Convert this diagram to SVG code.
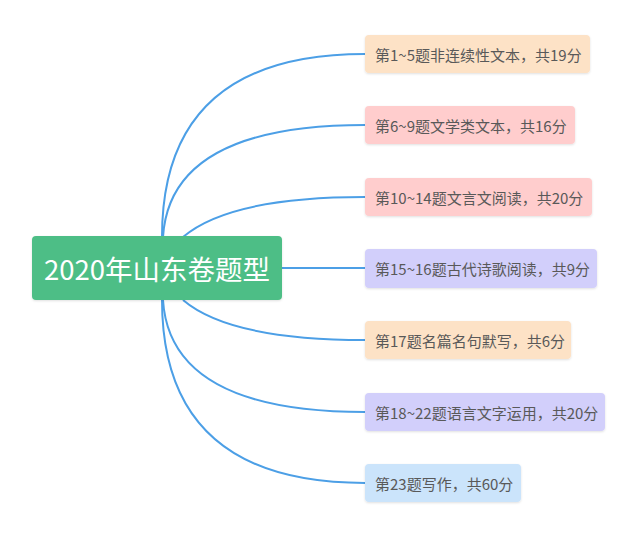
<svg xmlns="http://www.w3.org/2000/svg" width="640" height="538" viewBox="0 0 640 538">
<style>
.conn{fill:none;stroke:#4c9fe6;stroke-width:2}
.box{rx:4;ry:4}
.lbl{font-family:"Noto Sans CJK SC","Microsoft YaHei",sans-serif;font-size:15px;fill:#595959;dominant-baseline:central}
.root{font-family:"Noto Sans CJK SC","Microsoft YaHei",sans-serif;font-size:27.5px;fill:#ffffff;dominant-baseline:central}
.peach{fill:#fde2c6}
.pink{fill:#ffcdcd}
.lav{fill:#d2cffb}
.blue{fill:#cbe4fb}
</style>
<defs>
<filter id="sh" x="-10%" y="-20%" width="120%" height="150%">
<feDropShadow dx="0" dy="1" stdDeviation="1" flood-color="#000" flood-opacity="0.12"/>
</filter>
</defs>
<rect width="640" height="538" fill="#ffffff"/>
<g id="connectors">
<path class="conn" d="M162,237 Q162,54 365,54"/>
<path class="conn" d="M163,237 Q170,125 365,125"/>
<path class="conn" d="M183,237 Q230,197 365,197"/>
<path class="conn" d="M282,268 L365,268"/>
<path class="conn" d="M183,300 Q230,340 365,340"/>
<path class="conn" d="M163,300 Q170,412 365,412"/>
<path class="conn" d="M162,300 Q162,483 365,483"/>
</g>
<g id="root">
<rect class="box" x="32" y="236" width="250" height="64" fill="#4ebe86" filter="url(#sh)"/>
<text class="root" x="157" y="268" text-anchor="middle">2020年山东卷题型</text>
</g>
<g id="n1">
<rect class="box peach" x="365" y="35" width="225" height="38" filter="url(#sh)"/>
<text class="lbl" x="375" y="54">第1~5题非连续性文本，共19分</text>
</g>
<g id="n2">
<rect class="box pink" x="365" y="106" width="210" height="38" filter="url(#sh)"/>
<text class="lbl" x="375" y="125">第6~9题文学类文本，共16分</text>
</g>
<g id="n3">
<rect class="box pink" x="365" y="178" width="227" height="38" filter="url(#sh)"/>
<text class="lbl" x="375" y="197">第10~14题文言文阅读，共20分</text>
</g>
<g id="n4">
<rect class="box lav" x="365" y="249" width="232" height="39" filter="url(#sh)"/>
<text class="lbl" x="375" y="268.5">第15~16题古代诗歌阅读，共9分</text>
</g>
<g id="n5">
<rect class="box peach" x="365" y="321" width="206" height="38" filter="url(#sh)"/>
<text class="lbl" x="375" y="340">第17题名篇名句默写，共6分</text>
</g>
<g id="n6">
<rect class="box lav" x="365" y="393" width="240" height="38" filter="url(#sh)"/>
<text class="lbl" x="375" y="412">第18~22题语言文字运用，共20分</text>
</g>
<g id="n7">
<rect class="box blue" x="365" y="464" width="156" height="38" filter="url(#sh)"/>
<text class="lbl" x="375" y="483">第23题写作，共60分</text>
</g>
</svg>
